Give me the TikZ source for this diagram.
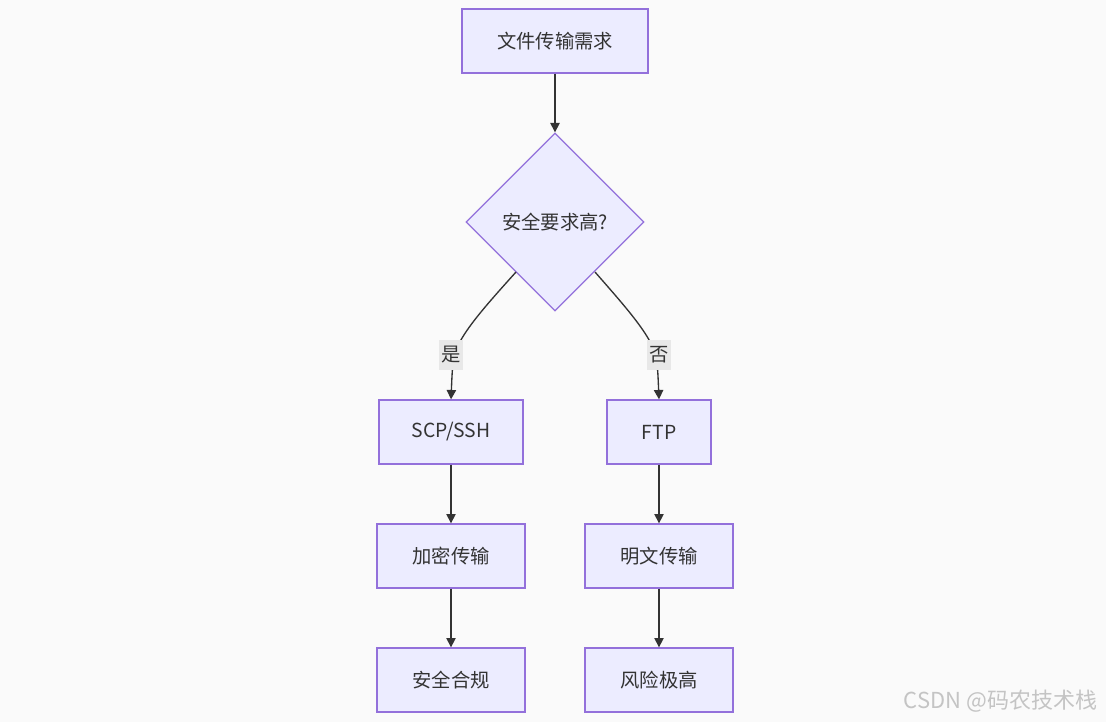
\documentclass[tikz,border=0pt]{standalone}
\usepackage{fontspec}
\setmainfont{Noto Sans CJK SC}
\usetikzlibrary{arrows.meta,shapes.geometric}
\definecolor{bg}{HTML}{FAFAFA}
\definecolor{boxfill}{HTML}{ECECFF}
\definecolor{boxline}{HTML}{9370DB}
\definecolor{txt}{HTML}{333333}
\definecolor{lblbg}{HTML}{E8E8E8}
\definecolor{wm}{HTML}{C4C4C4}
\tikzset{
  flowbox/.style={draw=boxline, fill=boxfill, line width=1pt, text=txt, minimum height=64*0.75pt, inner sep=0pt, font=\fontsize{14.5}{17}\selectfont},
  decision/.style={draw=boxline, fill=boxfill, line width=1pt, text=txt, diamond, minimum width=178*0.75pt, minimum height=178*0.75pt, inner sep=0pt, font=\fontsize{14.5}{17}\selectfont},
  conn/.style={draw=txt, line width=1pt, -{Triangle[length=7pt,width=7pt]}},
  edgelbl/.style={fill=lblbg, text=txt, inner xsep=2pt, inner ysep=5pt, font=\fontsize{14.5}{17}\selectfont},
}
\begin{document}
\begin{tikzpicture}[x=0.75pt,y=-0.75pt]
\fill[bg] (0,0) rectangle (1106,722);
\useasboundingbox (0,0) rectangle (1106,722);
\node[flowbox, minimum width=186*0.75pt] (req) at (555,41) {文件传输需求};
\node[decision] (sec) at (555,222) {安全要求高?};
\node[flowbox, minimum width=144*0.75pt] (scp) at (451,432) {SCP/SSH};
\node[flowbox, minimum width=104*0.75pt] (ftp) at (659,432) {FTP};
\node[flowbox, minimum width=148*0.75pt] (enc) at (451,556) {加密传输};
\node[flowbox, minimum width=148*0.75pt] (plain) at (659,556) {明文传输};
\node[flowbox, minimum width=148*0.75pt] (ok) at (451,680) {安全合规};
\node[flowbox, minimum width=148*0.75pt] (risk) at (659,680) {风险极高};
\coordinate (sl) at (516,272);
\coordinate (sr) at (595,272);
\draw[conn] (req) -- (sec);
\draw[conn] (sl) .. controls (480,312) and (455,340) .. (453,362) .. controls (452,375) .. (scp.north);
\draw[conn] (sr) .. controls (630,312) and (655,340) .. (657,362) .. controls (658,375) .. (ftp.north);
\node[edgelbl] (yes) at (451,355) {是};
\node[edgelbl] (no) at (659,355) {否};
\draw[conn] (scp) -- (enc);
\draw[conn] (enc) -- (ok);
\draw[conn] (ftp) -- (plain);
\draw[conn] (plain) -- (risk);
\node[text=wm, anchor=east, font=\fontsize{16.5}{19}\selectfont] (mark) at (1102,701) {CSDN @码农技术栈};
\end{tikzpicture}
\end{document}
